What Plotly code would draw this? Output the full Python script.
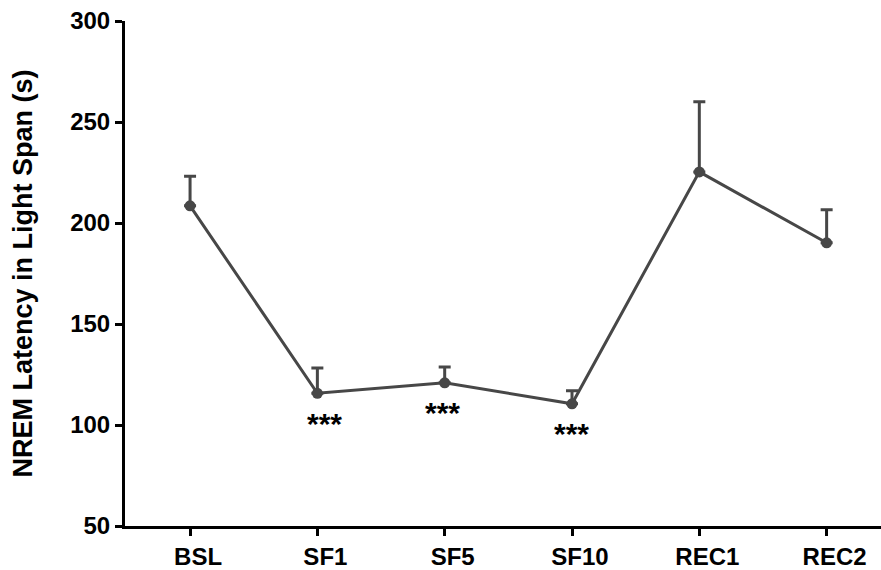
import plotly.graph_objects as go

# Sleep-fragmentation protocol: NREM latency during the light span
conditions = ["BSL", "SF1", "SF5", "SF10", "REC1", "REC2"]
latency_mean = [208.5, 115.7, 120.9, 110.5, 225.3, 190.2]
latency_sem = [14.6, 12.5, 7.8, 6.4, 34.7, 16.3]
significance = ["", "***", "***", "***", "", ""]
star_xshift = [0, 7, -2, -1, 0, 0]

y_ticks = [50, 100, 150, 200, 250, 300]

ink = "#474747"
font_family = "Liberation Sans, Arial, sans-serif"

fig = go.Figure()

fig.add_trace(go.Scatter(
    x=list(range(len(conditions))),
    y=latency_mean,
    mode="lines+markers",
    line=dict(color=ink, width=3),
    marker=dict(color=ink, size=11, symbol="circle"),
    error_y=dict(
        type="data",
        array=latency_sem,
        arrayminus=[0] * len(latency_sem),
        symmetric=False,
        color=ink,
        thickness=3,
        width=6,
    ),
    showlegend=False,
))

# significance markers under the sleep-fragmentation days
for i, (label, val) in enumerate(zip(significance, latency_mean)):
    if label:
        fig.add_annotation(
            x=i, y=val, text=label, showarrow=False,
            xref="x", yref="y",
            yanchor="middle", yshift=-30, xshift=star_xshift[i],
            font=dict(family=font_family, size=30, color="black", weight="bold"),
        )

fig.update_layout(
    width=881, height=570,
    margin=dict(l=125, r=0, t=21, b=42),
    paper_bgcolor="white",
    plot_bgcolor="white",
    font=dict(family=font_family, color="black"),
    xaxis=dict(
        range=[-0.511, 5.427],
        tickmode="array",
        tickvals=list(range(len(conditions))),
        ticktext=conditions,
        showgrid=False, zeroline=False,
        showline=True, linecolor="black", linewidth=3,
        ticks="outside", ticklen=7, tickwidth=3, tickcolor="black",
        ticklabelshift=8,
        tickfont=dict(family=font_family, size=24, color="black", weight="bold"),
    ),
    yaxis=dict(
        range=[50, 300],
        tickmode="array",
        tickvals=y_ticks,
        ticktext=[str(v) for v in y_ticks],
        showgrid=False, zeroline=False,
        showline=True, linecolor="black", linewidth=3,
        ticks="outside", ticklen=7, tickwidth=3, tickcolor="black",
        tickfont=dict(family=font_family, size=24, color="black", weight="bold"),
        title=dict(
            text="NREM Latency in Light Span (s)",
            font=dict(family=font_family, size=27, color="black", weight="bold"),
            standoff=30,
        ),
        automargin=False,
    ),
)

fig.write_html("out.html")
